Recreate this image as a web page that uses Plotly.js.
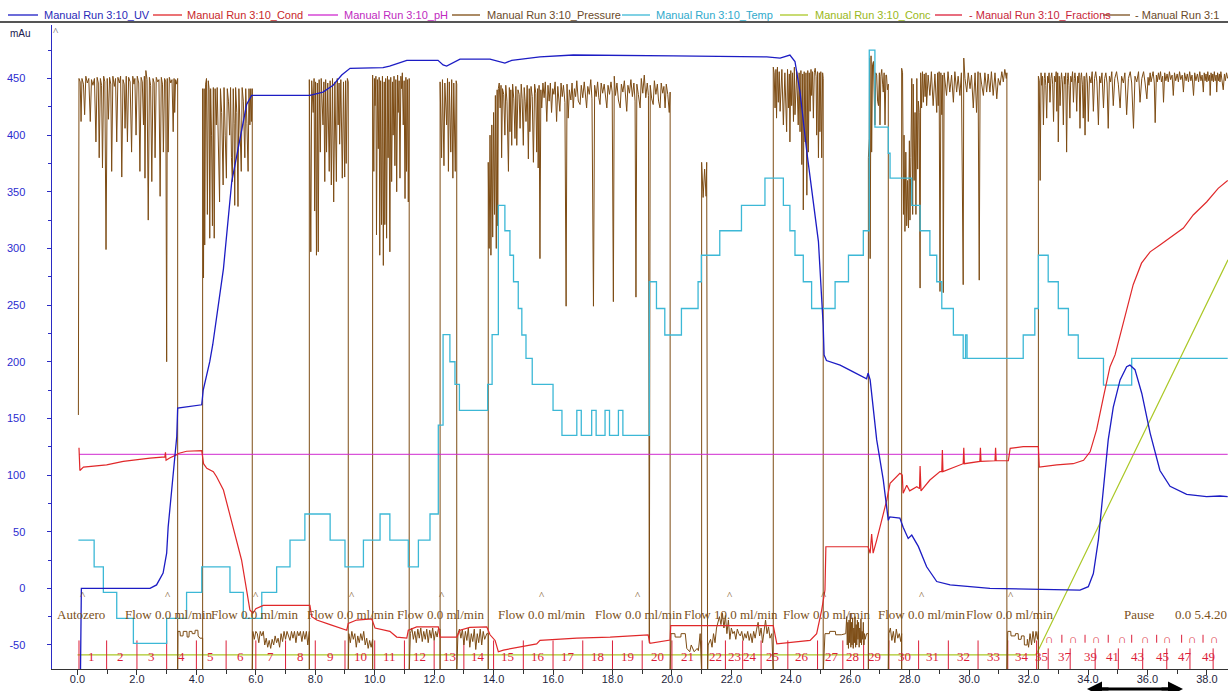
<!DOCTYPE html>
<html><head><meta charset="utf-8">
<script src="https://cdn.plot.ly/plotly-3.0.1.min.js"></script>
<style>html,body{margin:0;padding:0;background:#fff;overflow:hidden}#chart{width:1228px;height:691px}</style>
</head><body><div id="chart"></div>
<script>
// ---------- DATA (x in ml, y in mAu-scaled units) ----------
const uv = [[0.1,-75],[0.13,0],[0.5,0],[1.5,0],[2.44,0],[2.66,3],[2.88,13.5],[3.0,31],[3.05,54],[3.17,87],[3.28,116],[3.34,134],[3.37,159],[3.7,160],[4.18,162],[4.23,175],[4.45,200],[4.55,215],[4.91,282],[5.19,359],[5.47,397],[5.69,427],[5.86,435],[6.48,435],[7.82,435],[8.26,438],[8.6,444],[8.89,453],[9.17,459],[10.28,459.5],[10.5,461],[11.08,466],[12.13,466],[12.3,462],[12.42,461],[12.87,467],[13.88,467],[14.38,463.6],[14.61,466],[15.56,469],[16.68,470.7],[20.04,470],[23.19,469],[23.64,468],[23.97,470.7],[24.14,465],[24.31,438],[24.54,385],[24.76,341],[24.93,306],[25.09,232],[25.12,206],[25.2,201],[25.66,197],[26.1,191],[26.55,185],[26.6,190],[26.67,184],[26.89,131],[27.11,96],[27.28,60],[27.33,63],[27.67,62],[27.78,54],[27.95,44],[28.07,47],[28.29,37],[28.57,19],[28.91,6],[29.36,3],[30.7,0],[32.38,-1],[33.73,-1.5],[34.01,1.5],[34.18,13],[34.35,43],[34.52,87],[34.68,131],[34.85,160],[35.08,184],[35.3,195.6],[35.41,197],[35.58,193],[35.81,172],[36.09,137],[36.42,104],[36.76,90],[37.32,83],[37.99,81],[38.44,81.5],[38.7,81]];

const cond = [[0.05,124],[0.08,104],[0.2,107],[0.98,109],[1.54,112],[2.44,115],[2.94,116],[2.96,120],[2.98,113],[3.1,115],[3.34,118],[3.39,119],[3.67,121],[4.18,121.5],[4.24,110],[4.35,106],[4.57,103],[4.68,98.5],[4.91,86.8],[5.24,54.4],[5.52,25],[5.69,-1.5],[5.8,-19],[5.9,-22],[6.0,-18],[6.25,-15],[7.82,-15],[7.88,-25],[8.05,-28],[8.5,-32],[9.06,-37],[9.11,-31],[9.39,-28],[9.9,-27],[10.01,-35],[10.51,-38],[10.74,-43],[11.08,-44],[11.13,-37],[11.41,-34],[12.14,-34],[12.2,-43],[12.76,-43],[12.87,-37],[13.2,-34.5],[13.77,-34],[13.88,-41],[14.05,-46],[14.16,-56],[14.33,-54.5],[15.45,-49],[15.56,-46],[16.8,-44],[17.92,-43],[19.2,-41],[19.26,-48.5],[19.94,-45.6],[19.96,-33],[23.41,-33],[23.53,-49],[24.65,-46],[24.87,-40],[25.04,-19],[25.15,-1.5],[25.18,36.7],[26.6,36.7],[26.67,31],[26.72,48],[26.77,31],[26.89,42.6],[27.23,78],[27.34,92.7],[27.67,101.5],[27.75,100],[27.78,84],[27.9,91],[28.0,86],[28.24,89.7],[28.33,88],[28.35,108],[28.38,86],[28.68,95.6],[29.02,103],[29.08,103],[29.1,122],[29.12,103],[29.8,110],[29.82,124],[29.84,110],[30.36,112],[30.38,124],[30.4,112],[30.87,112.6],[30.89,124],[30.91,112.6],[31.32,112.6],[31.38,123.6],[31.82,125],[32.33,125],[32.36,107],[32.95,109],[33.5,110],[33.85,113],[34.07,120.5],[34.29,140],[34.52,169],[34.74,195.6],[34.91,206],[35.19,235],[35.52,268],[35.8,287],[36.09,297],[36.42,303],[36.87,312],[37.21,318],[37.54,329.5],[37.99,341],[38.38,353],[38.7,360]];

const ph = [[0.05,118.3],[38.7,118.3]];

const conc = [[0.0,-58.8],[32.25,-58.8],[38.71,290]];

const temp = [[0.03,42.6],[0.56,42.6],[0.56,19],[0.87,19],[0.87,-3.5],[1.32,-3.5],[1.32,-26.5],[1.88,-26.5],[1.88,-48.5],[3.0,-48.5],[3.0,-26.5],[3.67,-26.5],[3.67,-3.5],[4.18,-3.5],[4.18,19],[5.13,19],[5.13,-3.5],[5.58,-3.5],[5.58,-26.5],[6.2,-26.5],[6.2,-3.5],[6.7,-3.5],[6.7,19],[7.15,19],[7.15,42.6],[7.65,42.6],[7.65,65.6],[8.5,65.6],[8.5,42.6],[9.0,42.6],[9.0,19],[9.62,19],[9.62,42.6],[10.18,42.6],[10.18,65.6],[10.51,65.6],[10.51,42.6],[11.13,42.6],[11.13,19],[11.47,19],[11.47,42.6],[11.86,42.6],[11.86,65.6],[12.14,65.6],[12.14,144],[12.3,144],[12.3,224],[12.53,224],[12.53,200],[12.7,200],[12.7,180],[12.85,180],[12.85,157],[13.8,157],[13.8,180],[13.95,180],[13.95,224],[14.16,224],[14.16,338],[14.38,338],[14.38,315.6],[14.55,315.6],[14.55,294],[14.67,294],[14.67,270.6],[14.83,270.6],[14.83,247],[14.95,247],[14.95,223.6],[15.09,223.6],[15.09,203],[15.3,203],[15.3,180],[16.0,180],[16.0,157],[16.3,157],[16.3,135],[16.8,135],[16.8,157],[16.95,157],[16.95,135],[17.3,135],[17.3,157],[17.45,157],[17.45,135],[17.75,135],[17.75,157],[17.9,157],[17.9,135],[18.2,135],[18.2,157],[18.35,157],[18.35,135],[19.24,135],[19.24,270.6],[19.48,270.6],[19.48,247],[19.76,247],[19.76,223.6],[20.32,223.6],[20.32,247],[20.88,247],[20.88,270.6],[20.99,270.6],[20.99,294],[21.61,294],[21.61,315.6],[22.34,315.6],[22.34,338],[23.13,338],[23.13,362],[23.75,362],[23.75,338],[23.97,338],[23.97,315.6],[24.14,315.6],[24.14,294],[24.42,294],[24.42,270.6],[24.7,270.6],[24.7,247],[25.49,247],[25.49,270.6],[25.94,270.6],[25.94,294],[26.44,294],[26.44,315.6],[26.64,315.6],[26.64,475],[26.83,475],[26.83,407],[27.28,407],[27.28,384],[27.34,384],[27.34,362],[28.07,362],[28.07,338],[28.35,338],[28.35,315.6],[28.68,315.6],[28.68,294],[28.91,294],[28.91,270.6],[29.08,270.6],[29.08,247],[29.47,247],[29.47,223.6],[29.8,223.6],[29.8,203],[29.88,203],[29.88,223.6],[29.93,223.6],[29.93,203],[31.82,203],[31.82,223.6],[32.21,223.6],[32.21,247],[32.33,247],[32.33,294],[32.66,294],[32.66,270.6],[33.0,270.6],[33.0,247],[33.34,247],[33.34,223.6],[33.67,223.6],[33.67,203],[34.52,203],[34.52,179.4],[35.47,179.4],[35.47,203],[38.7,203]];

const pressure = [
[0.03,153],[0.05,450],[0.09,447],[0.12,412],[0.15,450],[0.2,445],[0.24,418],[0.28,452],[0.33,446],[0.38,450],[0.43,412],[0.47,449],[0.52,444],[0.57,450],[0.62,394],[0.66,451],[0.7,446],[0.73,380],[0.77,450],[0.81,444],[0.84,371],[0.88,452],[0.92,447],[0.96,299],[1.0,450],[1.04,414],[1.08,451],[1.12,445],[1.15,368],[1.19,452],[1.24,443],[1.28,450],[1.32,394],[1.36,451],[1.41,446],[1.45,452],[1.49,363],[1.53,449],[1.57,445],[1.6,406],[1.64,452],[1.68,394],[1.72,451],[1.77,447],[1.82,385],[1.86,452],[1.9,445],[1.93,450],[1.97,400],[2.01,452],[2.06,446],[2.1,368],[2.14,451],[2.18,447],[2.22,409],[2.25,452],[2.27,362],[2.3,457],[2.34,449],[2.38,325],[2.42,451],[2.46,444],[2.5,359],[2.54,450],[2.58,446],[2.61,380],[2.65,451],[2.7,447],[2.74,449],[2.78,346],[2.82,451],[2.86,445],[2.89,385],[2.93,450],[2.97,447],[3.0,200],[3.02,450],[3.05,385],[3.09,451],[3.14,446],[3.18,449],[3.22,403],[3.25,450],[3.27,420],[3.3,449],[3.34,445],[3.37,450],[3.37,-75],
[3.38,-38],[3.45,-38],[3.46,-42],[3.55,-42],[3.56,-38],[3.68,-38],[3.69,-43],[3.75,-43],[3.76,-38],[3.85,-38],[3.86,-40],[3.95,-40],[3.96,-37],[4.05,-37],[4.06,-42],[4.12,-44],[4.21,-44],[4.21,-75],
[4.21,441],[4.24,274],[4.26,441],[4.28,303],[4.31,445],[4.34,450],[4.37,330],[4.4,448],[4.43,440],[4.45,309],[4.48,441],[4.51,400],[4.54,320],[4.57,442],[4.6,309],[4.63,441],[4.67,409],[4.7,442],[4.74,380],[4.78,341],[4.81,441],[4.85,420],[4.9,356],[4.93,442],[4.97,400],[5.01,362],[5.04,441],[5.08,430],[5.12,400],[5.15,442],[5.18,380],[5.21,359],[5.24,441],[5.27,410],[5.29,338],[5.32,442],[5.36,420],[5.4,337],[5.43,441],[5.47,400],[5.51,368],[5.54,442],[5.58,430],[5.63,380],[5.66,441],[5.7,410],[5.74,368],[5.77,441],[5.8,409],[5.83,441],[5.85,412],[5.88,441],[5.88,-75],
[5.9,-38],[5.95,-45],[6.0,-38],[6.05,-40],[6.1,-48],[6.15,-38],[6.2,-42],[6.25,-38],[6.3,-50],[6.35,-44],[6.4,-52],[6.45,-46],[6.5,-53],[6.55,-45],[6.6,-50],[6.65,-42],[6.7,-48],[6.75,-44],[6.8,-52],[6.85,-40],[6.9,-47],[6.95,-38],[7.0,-45],[7.05,-38],[7.1,-42],[7.15,-46],[7.2,-38],[7.25,-44],[7.3,-38],[7.35,-48],[7.4,-38],[7.45,-42],[7.5,-38],[7.55,-47],[7.6,-38],[7.65,-45],[7.7,-38],[7.75,-50],[7.8,-38],[7.8,-75],
[7.8,449],[7.85,297],[7.88,448],[7.93,420],[7.96,450],[7.98,333],[8.01,447],[8.04,294],[8.07,446],[8.1,297],[8.13,449],[8.17,385],[8.2,450],[8.26,409],[8.29,447],[8.32,359],[8.35,449],[8.38,385],[8.42,446],[8.47,368],[8.5,448],[8.54,356],[8.58,450],[8.62,341],[8.66,447],[8.71,359],[8.74,450],[8.77,409],[8.8,446],[8.82,392],[8.86,449],[8.91,362],[8.95,447],[8.99,363],[9.02,448],[9.04,375],[9.08,450],[9.11,447],[9.11,-75],
[9.13,-40],[9.18,-48],[9.23,-38],[9.28,-45],[9.33,-40],[9.38,-52],[9.43,-42],[9.48,-48],[9.53,-40],[9.58,-46],[9.63,-38],[9.68,-50],[9.73,-44],[9.78,-53],[9.83,-46],[9.88,-52],[9.93,-45],[9.93,-75],
[9.93,453],[9.97,368],[9.99,450],[10.01,426],[10.04,452],[10.06,312],[10.09,449],[10.12,388],[10.15,451],[10.17,294],[10.2,448],[10.23,321],[10.26,452],[10.29,285],[10.32,447],[10.34,321],[10.37,450],[10.4,309],[10.43,452],[10.45,380],[10.48,449],[10.51,297],[10.54,451],[10.57,359],[10.6,447],[10.62,400],[10.65,452],[10.68,373],[10.71,449],[10.74,350],[10.77,453],[10.79,420],[10.82,448],[10.85,362],[10.88,452],[10.9,441],[10.93,455],[10.96,409],[10.99,448],[11.02,344],[11.05,451],[11.07,368],[11.1,449],[11.13,341],[11.16,450],[11.16,-75],
[11.2,-40],[11.25,-35],[11.3,-45],[11.35,-38],[11.4,-48],[11.45,-36],[11.5,-44],[11.55,-35],[11.6,-47],[11.65,-38],[11.7,-45],[11.75,-36],[11.8,-48],[11.85,-37],[11.9,-44],[11.95,-35],[12.0,-46],[12.05,-38],[12.1,-43],[12.14,-36],[12.2,-36],[12.2,-75],
[12.2,447],[12.25,380],[12.28,449],[12.33,373],[12.36,446],[12.42,409],[12.45,450],[12.48,368],[12.51,447],[12.56,385],[12.59,449],[12.63,362],[12.66,446],[12.71,368],[12.74,448],[12.76,445],[12.76,-75],
[12.8,-40],[12.85,-36],[12.9,-44],[12.95,-36],[13.0,-50],[13.05,-38],[13.1,-46],[13.15,-35],[13.2,-52],[13.25,-40],[13.3,-47],[13.35,-36],[13.4,-54],[13.45,-40],[13.5,-48],[13.55,-36],[13.6,-50],[13.65,-38],[13.7,-45],[13.77,-40],[13.82,-40],[13.82,-75],
[13.82,376],[13.85,300],[13.88,400],[13.91,294],[13.94,409],[13.97,310],[14.0,420],[14.03,330],[14.06,435],[14.09,300],[14.12,440],[14.14,320],[14.16,441],
[14.19,446],[14.22,424],[14.25,444],[14.27,380],[14.3,441],[14.34,436],[14.38,400],[14.41,444],[14.45,430],[14.5,368],[14.53,442],[14.55,403],[14.58,440],[14.61,391],[14.64,445],[14.68,432],[14.72,397],[14.75,443],[14.78,391],[14.82,440],[14.86,436],[14.89,406],[14.93,445],[14.96,432],[15.0,391],[15.03,442],[15.06,430],[15.09,412],[15.13,444],[15.17,379],[15.2,441],[15.22,403],[15.26,443],[15.3,434],[15.34,376],[15.38,445],[15.42,437],[15.45,385],[15.48,441],[15.5,371],[15.53,444],[15.56,291],[15.59,440],[15.62,424],[15.66,446],[15.7,433],[15.74,447],[15.79,412],[15.83,444],[15.87,430],[15.91,446],[15.95,420],[15.99,441],[16.03,436],[16.07,447],[16.12,412],[16.16,443],[16.2,431],[16.23,421],[16.27,446],[16.31,434],[16.35,444],[16.4,429],[16.44,249],[16.47,445],[16.51,415],[16.55,440],[16.6,431],[16.64,446],[16.68,424],[16.72,441],[16.76,434],[16.8,448],[16.85,430],[16.91,427],[16.95,444],[17.0,433],[17.05,447],[17.09,431],[17.13,424],[17.17,443],[17.22,436],[17.27,449],[17.31,432],[17.36,249],[17.4,444],[17.45,434],[17.5,447],[17.54,433],[17.58,427],[17.62,446],[17.67,437],[17.72,445],[17.77,429],[17.81,424],[17.85,444],[17.9,436],[17.95,447],[17.99,438],[18.03,253],[18.06,452],[18.1,435],[18.15,446],[18.2,431],[18.26,424],[18.3,445],[18.35,438],[18.4,448],[18.44,432],[18.48,421],[18.52,444],[18.57,437],[18.62,449],[18.67,434],[18.72,446],[18.76,430],[18.79,257],[18.82,445],[18.87,436],[18.93,424],[18.97,450],[19.02,437],[19.07,453],[19.12,433],[19.17,446],[19.21,435],[19.24,-48],[19.27,444],[19.32,432],[19.37,427],[19.41,448],[19.46,436],[19.51,445],[19.55,430],[19.6,424],[19.64,446],[19.69,437],[19.73,443],[19.77,424],[19.81,445],[19.86,436],[19.91,420],[19.94,438],[19.94,-75],
[19.97,-40],[20.1,-40],[20.11,-43],[20.3,-43],[20.31,-40],[20.45,-40],[20.5,-53],[20.6,-56],[20.65,-50],[20.75,-56],[20.85,-53],[20.89,-55],[20.95,-40],[21.0,-75],[21.0,376],[21.05,345],[21.1,370],[21.15,346],[21.17,376],[21.2,-75],
[21.22,-50],[21.3,-45],[21.35,-52],[21.4,-40],[21.45,-48],[21.5,-35],[21.55,-30],[21.6,-25],[21.65,-32],[21.7,-22],[21.75,-35],[21.8,-24],[21.85,-40],[21.9,-28],[21.95,-45],[22.0,-35],[22.05,-40],[22.1,-38],[22.15,-45],[22.2,-36],[22.25,-40],[22.3,-42],[22.35,-38],[22.4,-46],[22.45,-40],[22.5,-44],[22.55,-38],[22.6,-46],[22.65,-40],[22.7,-48],[22.75,-38],[22.8,-44],[22.85,-36],[22.9,-30],[22.95,-42],[23.0,-35],[23.05,-48],[23.1,-38],[23.15,-28],[23.2,-40],[23.25,-34],[23.3,-44],[23.36,-40],[23.41,-75],
[23.41,460],[23.44,455],[23.47,424],[23.5,458],[23.52,415],[23.55,460],[23.58,429],[23.61,456],[23.64,421],[23.7,458],[23.75,409],[23.8,455],[23.86,403],[23.89,458],[23.92,424],[23.95,454],[23.97,394],[24.0,457],[24.03,426],[24.06,455],[24.09,412],[24.12,460],[24.14,418],[24.2,456],[24.25,409],[24.28,455],[24.31,403],[24.34,457],[24.37,374],[24.4,454],[24.42,334],[24.45,456],[24.48,394],[24.51,455],[24.54,347],[24.57,457],[24.59,385],[24.62,455],[24.65,421],[24.68,458],[24.7,435],[24.73,456],[24.76,415],[24.79,455],[24.82,459],[24.85,452],[24.87,400],[24.9,456],[24.93,380],[24.96,455],[24.98,403],[25.01,456],[25.04,380],[25.07,455],[25.09,450],[25.09,-75],
[25.15,-40],[25.3,-40],[25.31,-38],[25.5,-38],[25.51,-41],[25.7,-41],[25.85,-40],[25.88,-25],[25.9,-50],[25.92,-30],[25.94,-53],[25.96,-28],[25.98,-48],[26.0,-22],[26.02,-52],[26.04,-30],[26.06,-50],[26.08,-26],[26.1,-53],[26.12,-35],[26.14,-48],[26.16,-25],[26.18,-52],[26.2,-32],[26.22,-50],[26.24,-28],[26.26,-45],[26.28,-30],[26.3,-52],[26.32,-35],[26.34,-48],[26.36,-27],[26.38,-50],[26.4,-38],[26.42,-45],[26.44,-30],[26.46,-50],[26.48,-40],[26.5,-45],[26.55,-40],[26.61,-40],[26.61,-75],
[26.61,380],[26.64,397],[26.65,468],[26.67,291],[26.7,470],[26.72,385],[26.75,462],[26.78,465],[26.8,440],[26.83,409],[26.86,455],[26.89,453],[26.92,430],[26.95,426],[26.98,455],[27.0,409],[27.03,452],[27.06,458],[27.09,445],[27.11,438],[27.14,455],[27.17,409],[27.2,453],[27.22,453],[27.25,440],[27.28,445],[27.28,-75],
[27.3,-40],[27.35,-35],[27.4,-46],[27.45,-38],[27.5,-48],[27.55,-36],[27.6,-44],[27.65,-40],[27.7,-47],[27.73,-40],[27.73,-75],
[27.73,459],[27.76,455],[27.79,330],[27.81,400],[27.84,315],[27.87,385],[27.9,320],[27.93,360],[27.96,318],[27.99,395],[28.01,325],[28.04,380],[28.07,450],[28.1,330],[28.12,445],[28.15,360],[28.18,420],[28.21,330],[28.24,450],[28.27,370],[28.29,430],[28.32,420],[28.35,265],[28.37,455],
[28.4,424],[28.43,456],[28.46,429],[28.49,454],[28.52,434],[28.55,455],[28.57,426],[28.62,453],[28.68,435],[28.73,456],[28.79,426],[28.85,454],[28.91,420],[28.94,455],[28.96,426],[28.99,456],[29.02,262],[29.05,455],[29.08,418],[29.11,453],[29.13,261],[29.16,455],[29.2,445],[29.24,435],[29.29,456],[29.35,438],[29.41,453],[29.47,429],[29.52,456],[29.58,438],[29.63,452],[29.69,435],[29.74,455],[29.8,268],[29.82,468],[29.86,450],[29.92,438],[29.97,455],[30.03,441],[30.08,453],[30.14,424],[30.2,455],[30.25,420],[30.3,456],[30.34,272],[30.37,455],[30.42,445],[30.48,435],[30.53,455],[30.59,438],[30.64,454],[30.7,438],[30.75,456],[30.81,435],[30.87,455],[30.93,432],[30.98,450],[31.04,444],[31.1,456],[31.15,447],[31.2,458],[31.25,450],[31.27,455],[31.27,-75],
[31.3,-38],[31.4,-38],[31.41,-42],[31.55,-42],[31.56,-40],[31.65,-40],[31.66,-45],[31.75,-45],[31.76,-42],[31.85,-42],[31.86,-50],[31.95,-50],[31.96,-45],[32.0,-52],[32.05,-40],[32.1,-50],[32.15,-38],[32.2,-48],[32.25,-38],[32.3,-45],[32.33,-38],[32.33,-75],
[32.33,452],[32.36,448],[32.39,360],[32.42,455],[32.44,444],[32.47,452],[32.5,409],[32.53,450],[32.55,455],[32.58,444],[32.61,415],[32.64,452],[32.66,446],[32.69,455],[32.72,429],[32.75,450],[32.78,455],[32.81,445],[32.84,412],[32.87,452],[32.9,447],[32.93,456],[32.95,421],[32.98,455],[33.0,394],[33.03,452],[33.06,426],[33.09,449],[33.11,455],[33.14,446],[33.17,409],[33.2,452],[33.22,445],[33.25,455],[33.28,385],[33.31,450],[33.33,455],[33.36,444],[33.39,415],[33.42,452],[33.45,447],[33.48,456],[33.51,429],[33.54,450],[33.56,455],[33.59,446],[33.62,421],[33.65,452],[33.67,446],[33.7,455],[33.73,406],[33.76,451],[33.78,455],[33.81,445],[33.84,415],[33.87,452],[33.9,400],[33.93,450],[33.95,455],[33.98,446],[34.01,412],[34.05,452],[34.1,446],[34.14,456],[34.18,421],[34.22,450],[34.26,456],[34.3,447],[34.35,409],[34.39,452],[34.43,446],[34.47,455],[34.52,424],[34.56,450],[34.6,455],[34.64,446],[34.68,406],[34.72,452],[34.76,447],[34.8,456],[34.85,426],[34.9,450],[34.96,456],[35.02,445],[35.08,424],[35.13,452],[35.19,446],[35.24,455],[35.3,418],[35.36,450],[35.42,456],[35.47,446],[35.53,406],[35.58,452],[35.64,447],[35.7,456],[35.75,429],[35.81,450],[35.87,456],[35.92,446],[35.98,432],[36.02,451],[36.05,444],[36.09,455],[36.12,447],[36.16,452],[36.19,456],[36.23,446],[36.26,411],[36.3,453],[36.33,447],[36.37,455],[36.4,449],[36.44,456],[36.47,447],[36.51,452],[36.54,429],[36.58,455],[36.62,448],[36.66,454],[36.7,447],[36.74,456],[36.78,449],[36.83,453],[36.87,435],[36.91,455],[36.95,448],[37.0,454],[37.04,447],[37.08,456],[37.12,449],[37.17,453],[37.21,438],[37.25,455],[37.3,448],[37.34,454],[37.38,447],[37.42,456],[37.46,448],[37.5,453],[37.55,435],[37.59,455],[37.63,448],[37.68,454],[37.72,447],[37.76,456],[37.8,448],[37.84,453],[37.88,438],[37.91,455],[37.94,448],[37.97,454],[38.0,447],[38.03,456],[38.06,448],[38.09,453],[38.11,435],[38.14,455],[38.17,448],[38.2,454],[38.22,447],[38.25,456],[38.28,448],[38.31,453],[38.33,438],[38.36,455],[38.39,448],[38.42,454],[38.44,447],[38.47,456],[38.5,448],[38.55,440],[38.59,454],[38.62,448],[38.66,455],[38.7,450]
];

// Fractions
const fracLabels = ['1','2','3','4','5','6','7','8','9','10','11','12','13','14','15','16','17','18','19','20','21','22','23','24','25','26','27','28','29','30','31','32','33','34','35','37','39','41','43','45','47','49'];
const fracCenters = [0.48,1.46,2.50,3.51,4.49,5.49,6.48,7.49,8.50,9.51,10.51,11.50,12.50,13.48,14.48,15.49,16.50,17.51,18.49,19.50,20.51,21.45,22.12,22.63,23.40,24.38,25.39,26.09,26.83,27.84,28.78,29.80,30.81,31.78,32.45,33.23,34.07,34.84,35.68,36.49,37.26,38.04];
const fracTicks = [0.05,0.98,2.0,3.0,4.0,5.0,6.0,7.0,8.0,9.0,10.0,11.0,12.0,13.0,14.0,15.0,16.0,17.0,18.0,19.0,20.0,21.0,21.8,22.38,23.0,23.9,24.9,25.75,26.45,27.3,28.3,29.3,30.3,31.3,32.27];
const fracTicksLate = [32.66,33.4,34.24,35.02,35.84,36.65,37.43,38.21];
const fracShort = [33.12,33.9,34.68,35.47,36.31,37.15,37.87];
const fracArcs = [32.72,33.5,34.3,35.15,35.92,36.69,37.53,38.27];

// Logbook
const logMarks = [0.2,3.05,6.0,9.23,12.25,15.62,18.87,21.95,25.1,28.4,31.4];
const logTexts = ['Autozero','Flow 0.0 ml/min','Flow 0.0 ml/min','Flow 0.0 ml/min','Flow 0.0 ml/min','Flow 0.0 ml/min','Flow 0.0 ml/min','Flow 10.0 ml/min','Flow 0.0 ml/min','Flow 0.0 ml/min','Flow 0.0 ml/min','Pause','0.0 5.4.20'];
const logTextX = [-0.76,1.52,4.43,7.65,10.68,14.08,17.33,20.33,23.66,26.87,29.83,35.13,36.87];

// Legend
const legendNames = ['Manual Run 3:10_UV','Manual Run 3:10_Cond','Manual Run 3:10_pH','Manual Run 3:10_Pressure','Manual Run 3:10_Temp','Manual Run 3:10_Conc','- Manual Run 3:10_Fractions','- Manual Run 3:1'];

const yTickVals = [-50,0,50,100,150,200,250,300,350,400,450];
const yTickText = ['-50','0','50','100','150','200','250','300','350','400','450'];

// ---------- STYLE ----------
const C = {uv:'#1c1cc4', cond:'#e0282a', ph:'#d02ad0', press:'#7d4c14', temp:'#3cb8d6', conc:'#abc827', frac:'#dc1f3a', log:'#7a5020'};
const legendColors = [C.uv, C.cond, C.ph, C.press, C.temp, C.conc, C.frac, C.log];
const legendTextColors = ['#2a2ab8','#c8282a','#c02ac0','#6a4a2a','#30aacc','#9ab820','#c81f3a','#6a4a2a'];
const legendLinePx = [[8,38],[153,182],[308,338],[452,480],[622,650],[780,808],[935,962],[1103,1130]];
const legendTextPx = [42,185,342,485,654,813,967,1133];

const L = 52, W = 1176, T = 25, H = 644;
const px2paperX = p => (p - L) / W;
const py2paperY = p => (T + H - p) / H;

function lineTrace(pts, color, width) {
  return {type:'scatter', mode:'lines', x: pts.map(p => p[0]), y: pts.map(p => p[1]),
          line:{color: color, width: width}, hoverinfo:'skip', showlegend:false};
}

// fraction tick marks
const fx = [], fy = [];
fracTicks.forEach(b => { fx.push(b, b, null); fy.push(-46, -75, null); });
fracTicksLate.forEach(b => { fx.push(b, b, null); fy.push(-53, -75, null); });
fracShort.forEach(b => { fx.push(b, b, null); fy.push(-41, -48, null); });

const traces = [
  lineTrace(conc, C.conc, 1.2),
  {type:'scatter', mode:'lines', x: fx, y: fy, line:{color:C.frac, width:1}, hoverinfo:'skip', showlegend:false, connectgaps:false},
  lineTrace(pressure, C.press, 1),
  lineTrace(temp, C.temp, 1.3),
  lineTrace(ph, C.ph, 1),
  lineTrace(cond, C.cond, 1.2),
  lineTrace(uv, C.uv, 1.3)
];

const ann = [];
const serif = 'Liberation Serif, Times New Roman, serif';
fracLabels.forEach((t, i) => ann.push({x: fracCenters[i], y: -60, text: t, showarrow:false, xanchor:'center', yanchor:'middle', font:{family: serif, size:13, color: C.frac}}));
fracArcs.forEach(x => ann.push({x: x, y: -45, text: '∩', showarrow:false, xanchor:'center', yanchor:'middle', font:{family: serif, size:12, color: C.frac}}));
logMarks.forEach(x => ann.push({x: x, y: -6, text: '^', showarrow:false, xanchor:'center', yanchor:'middle', font:{family: serif, size:11, color: C.log}}));
logTexts.forEach((t, i) => ann.push({x: logTextX[i], y: -23.5, text: t, showarrow:false, xanchor:'left', yanchor:'middle', font:{family: serif, size:13, color: '#7a5020'}}));

const shapes = [];
legendNames.forEach((n, i) => {
  shapes.push({type:'line', xref:'paper', yref:'paper', x0: px2paperX(legendLinePx[i][0]), x1: px2paperX(legendLinePx[i][1]), y0: py2paperY(15), y1: py2paperY(15), line:{color: legendColors[i], width:1.3}});
  ann.push({xref:'paper', yref:'paper', x: px2paperX(legendTextPx[i]), y: py2paperY(15), text: n, showarrow:false, xanchor:'left', yanchor:'middle', font:{family:'Liberation Sans, Arial, sans-serif', size:11, color: legendTextColors[i]}});
});
shapes.push({type:'line', xref:'paper', yref:'paper', x0: px2paperX(0), x1: 1, y0: py2paperY(22), y1: py2paperY(22), line:{color:'#555', width:2}});
// double-arrow shaft
shapes.push({type:'line', xref:'paper', yref:'paper', x0: px2paperX(1092), x1: px2paperX(1178), y0: py2paperY(689), y1: py2paperY(689), line:{color:'#000', width:3}});

ann.push({xref:'paper', yref:'paper', x: px2paperX(8), y: py2paperY(33), text:'mAu', showarrow:false, xanchor:'left', yanchor:'middle', font:{family:'Liberation Sans, Arial, sans-serif', size:10, color:'#202050'}});
ann.push({xref:'paper', yref:'paper', x: px2paperX(56), y: py2paperY(31), text:'^', showarrow:false, xanchor:'center', yanchor:'middle', font:{family: serif, size:11, color:'#555'}});
// double arrow heads below axis
ann.push({xref:'paper', yref:'paper', axref:'paper', ayref:'paper', x: px2paperX(1087), y: py2paperY(689), ax: px2paperX(1110), ay: py2paperY(689), text:'', showarrow:true, arrowhead:2, arrowsize:1, arrowwidth:3, arrowcolor:'#000'});
ann.push({xref:'paper', yref:'paper', axref:'paper', ayref:'paper', x: px2paperX(1183), y: py2paperY(689), ax: px2paperX(1160), ay: py2paperY(689), text:'', showarrow:true, arrowhead:2, arrowsize:1, arrowwidth:3, arrowcolor:'#000'});

const layout = {
  width:1228, height:691,
  margin:{l:L, r:0, t:T, b:691 - T - H, pad:0},
  paper_bgcolor:'#fff', plot_bgcolor:'#fff',
  showlegend:false,
  font:{family:'Liberation Sans, Arial, sans-serif', size:11, color:'#222'},
  xaxis:{range:[-0.858, 38.71], showline:true, linecolor:'#333', linewidth:1, ticks:'outside', ticklen:5, tickcolor:'#333',
         tickmode:'linear', tick0:0, dtick:2, tickformat:'.1f', tickfont:{color:'#1e1e3c', size:11}, ticklabelstandoff:-5,
         minor:{tickmode:'linear', tick0:1, dtick:2, ticks:'outside', ticklen:4, tickcolor:'#333'},
         showgrid:false, zeroline:false, fixedrange:true},
  yaxis:{range:[-71.2, 497.2], showline:true, linecolor:'#2b2bc4', linewidth:1.5, ticks:'outside', ticklen:4, tickcolor:'#2b2bc4',
         tickmode:'array', tickvals:yTickVals, ticktext:yTickText, tickfont:{color:'#2b2bd0', size:11}, ticklabelstandoff:19,
         minor:{tickmode:'linear', tick0:25, dtick:50, ticks:'outside', ticklen:3, tickcolor:'#2b2bc4'},
         showgrid:false, zeroline:false, fixedrange:true},
  shapes: shapes,
  annotations: ann
};

Plotly.newPlot('chart', traces, layout, {displayModeBar:false, staticPlot:true});
</script>
</body></html>
